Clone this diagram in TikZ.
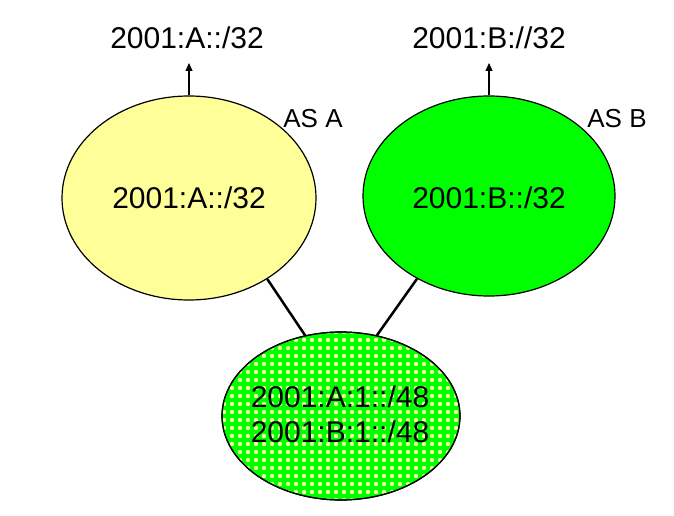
\documentclass[tikz,border=0pt]{standalone}
\usepackage{fontspec}
\setmainfont{Liberation Sans}
\usetikzlibrary{shapes.geometric,arrows.meta}
\definecolor{paleyellow}{RGB}{255,255,153}
\definecolor{brightgreen}{RGB}{0,255,0}
\definecolor{dotyellow}{RGB}{235,255,150}
\begin{document}
\begin{tikzpicture}[x=1pt,y=-1pt,
  asell/.style={ellipse, draw=black, line width=1.2pt, inner sep=0pt},
  big/.style={font=\fontsize{30}{34}\selectfont},
  small/.style={font=\fontsize{26}{30}\selectfont},
  uparrow/.style={line width=1.2pt, -{Triangle[width=7pt,length=8pt]}},
  link/.style={line width=2.5pt}]
\useasboundingbox (0,0) rectangle (674,516);
% ellipses
\node[asell, fill=paleyellow, minimum width=254pt, minimum height=204pt] (A) at (189,198) {};
\node[asell, fill=brightgreen, minimum width=252pt, minimum height=200pt] (B) at (489,196) {};
\node[asell, fill=brightgreen, minimum width=238pt, minimum height=168pt] (C) at (341,416) {};
% dot pattern in C
\begin{scope}
  \clip (341,416) ellipse [x radius=118pt, y radius=83pt];
  \foreach \i in {0,...,30} {
    \foreach \j in {0,...,22} {
      \fill[dotyellow] (224+\i*8, 332+\j*8) circle [radius=2.2pt];
    }
  }
\end{scope}
\draw[line width=1.2pt] (341,416) ellipse [x radius=119pt, y radius=84pt];
% texts
\node[big] (tA) at (189,198) {2001:A::/32};
\node[big] (tB) at (489,198) {2001:B::/32};
\node[big] (tC1) at (340,397) {2001:A:1::/48};
\node[big] (tC2) at (340,432) {2001:B:1::/48};
\node[big] (uA) at (187,38) {2001:A::/32};
\node[big] (uB) at (489,38) {2001:B://32};
\node[small] (asA) at (313,119) {AS A};
\node[small] (asB) at (617,119) {AS B};
% arrows
\coordinate (pA) at (189,63);
\coordinate (pB) at (489,63);
\draw[uparrow] (A.north) -- (pA);
\draw[uparrow] (B.north) -- (pB);
% links
\draw[link] (A.-46) -- (C.114);
\draw[link] (B.-131) -- (C.66);
\end{tikzpicture}
\end{document}
